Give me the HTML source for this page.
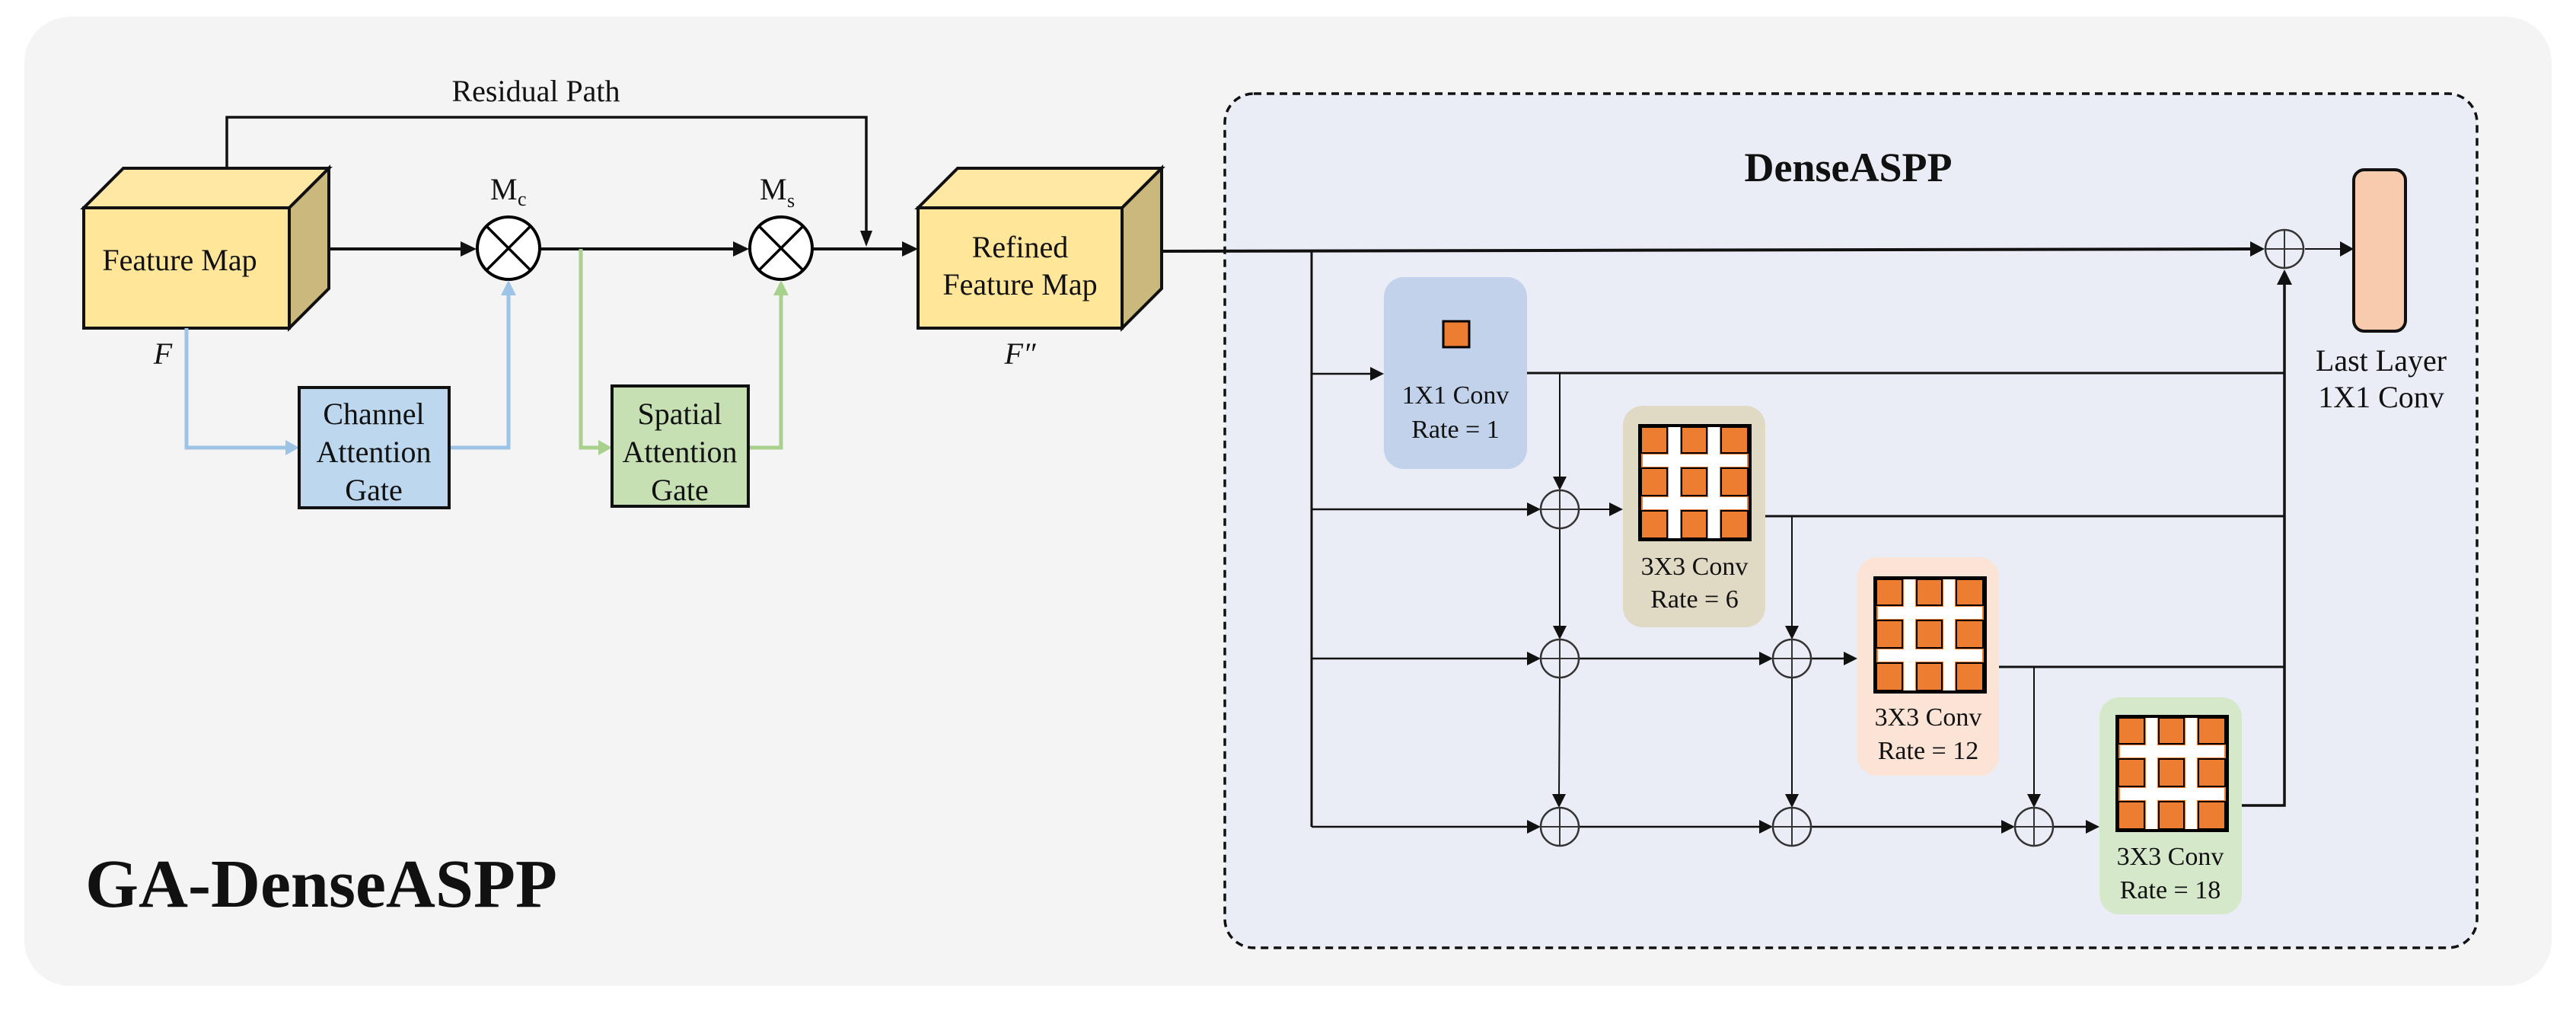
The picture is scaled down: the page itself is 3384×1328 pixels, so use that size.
<!DOCTYPE html>
<html><head><meta charset="utf-8"><style>
html,body{margin:0;padding:0;background:#fff;}
svg{display:block;}
text{font-family:"Liberation Serif",serif;fill:#111;}
</style></head><body>
<svg width="3384" height="1328" viewBox="0 0 3384 1328" xmlns="http://www.w3.org/2000/svg">
<defs>
<marker id="ab" markerWidth="10" markerHeight="10" refX="9" refY="5" orient="auto" markerUnits="userSpaceOnUse"><path d="M0,0 L0,0"/></marker>
<g id="grid">
 <rect x="0" y="0" width="149" height="154" fill="#000"/>
 <rect x="4" y="4" width="141" height="146" fill="#ed7d31"/>
 <rect x="40" y="4" width="15" height="146" fill="#fff"/>
 <rect x="92" y="4" width="15" height="146" fill="#fff"/>
 <rect x="6" y="40" width="137" height="16" fill="#fff"/>
 <rect x="6" y="96" width="137" height="16" fill="#fff"/>
 <g fill="#ed7d31" stroke="#000" stroke-width="2">
  <rect x="4" y="4" width="34" height="34"/><rect x="57" y="4" width="33" height="34"/><rect x="109" y="4" width="35" height="34"/>
  <rect x="4" y="58" width="34" height="36"/><rect x="57" y="58" width="33" height="36"/><rect x="109" y="58" width="35" height="36"/>
  <rect x="4" y="114" width="34" height="36"/><rect x="57" y="114" width="33" height="36"/><rect x="109" y="114" width="35" height="36"/>
 </g>
</g>
<g id="plus">
 <circle cx="0" cy="0" r="25" fill="none" stroke="#333" stroke-width="2.5"/>
 <line x1="-25" y1="0" x2="25" y2="0" stroke="#333" stroke-width="2"/>
 <line x1="0" y1="-25" x2="0" y2="25" stroke="#333" stroke-width="2"/>
</g>
<g id="times">
 <circle cx="0" cy="0" r="41" fill="#fff" stroke="#000" stroke-width="4"/>
 <line x1="-29" y1="-29" x2="29" y2="29" stroke="#000" stroke-width="3.5"/>
 <line x1="29" y1="-29" x2="-29" y2="29" stroke="#000" stroke-width="3.5"/>
</g>
</defs>

<rect x="32" y="22" width="3320" height="1273" rx="60" fill="#f4f4f4"/>

<!-- DenseASPP container -->
<rect x="1609" y="123" width="1645" height="1122" rx="38" fill="#eaedf5" stroke="#111" stroke-width="3.5" stroke-dasharray="10,7"/>
<text x="2428" y="238" font-size="54" font-weight="bold" text-anchor="middle">DenseASPP</text>

<!-- Feature map cube -->
<g stroke="#111" stroke-width="4" stroke-linejoin="miter">
 <polygon points="110,273 162,221 432,221 380,273" fill="#ffe8a3"/>
 <polygon points="380,273 432,221 432,379 380,431" fill="#cbb87c"/>
 <rect x="110" y="273" width="270" height="158" fill="#ffe699"/>
 <polygon points="1206,273 1258,221 1526,221 1474,273" fill="#ffe8a3"/>
 <polygon points="1474,273 1526,221 1526,379 1474,431" fill="#cbb87c"/>
 <rect x="1206" y="273" width="268" height="158" fill="#ffe699"/>
</g>
<text x="236" y="355" font-size="40" text-anchor="middle">Feature Map</text>
<text x="1340" y="338" font-size="40" text-anchor="middle">Refined</text>
<text x="1340" y="387" font-size="40" text-anchor="middle">Feature Map</text>
<text x="214" y="478" font-size="40" font-style="italic" text-anchor="middle">F</text>
<text x="1340" y="478" font-size="40" font-style="italic" text-anchor="middle">F″</text>

<!-- residual -->
<text x="704" y="133" font-size="40" text-anchor="middle">Residual Path</text>
<polyline points="298,221 298,154 1138,154 1138,305" fill="none" stroke="#111" stroke-width="3.5"/>
<polygon points="1130,303 1146,303 1138,324" fill="#111"/>

<!-- main line -->
<g stroke="#111" stroke-width="4">
 <line x1="432" y1="327" x2="608" y2="327"/>
 <line x1="710" y1="327" x2="966" y2="327"/>
 <line x1="1068" y1="327" x2="1188" y2="327"/>
</g>
<polygon points="605,317 605,337 626,327" fill="#111"/>
<polygon points="963,317 963,337 984,327" fill="#111"/>
<polygon points="1185,317 1185,337 1206,327" fill="#111"/>
<use href="#times" x="668" y="326"/>
<use href="#times" x="1026" y="326"/>
<text x="644" y="262" font-size="40">M</text><text x="680" y="270" font-size="26">c</text>
<text x="998" y="262" font-size="40">M</text><text x="1034" y="272" font-size="26">s</text>

<!-- attention gates -->
<polyline points="245,431 245,588 378,588" fill="none" stroke="#9dc3e6" stroke-width="5"/>
<polygon points="375,578 375,598 393,588" fill="#9dc3e6"/>
<polyline points="590,588 668,588 668,385" fill="none" stroke="#9dc3e6" stroke-width="5"/>
<polygon points="658,388 678,388 668,368" fill="#9dc3e6"/>
<rect x="393" y="509" width="197" height="158" fill="#bdd7ee" stroke="#111" stroke-width="4"/>
<text x="491" y="557" font-size="40" text-anchor="middle">Channel</text>
<text x="491" y="607" font-size="40" text-anchor="middle">Attention</text>
<text x="491" y="657" font-size="40" text-anchor="middle">Gate</text>

<polyline points="763,327 763,588 788,588" fill="none" stroke="#a9d18e" stroke-width="5"/>
<polygon points="786,578 786,598 804,588" fill="#a9d18e"/>
<polyline points="983,588 1026,588 1026,385" fill="none" stroke="#a9d18e" stroke-width="5"/>
<polygon points="1016,388 1036,388 1026,368" fill="#a9d18e"/>
<rect x="804" y="507" width="179" height="158" fill="#c6e0b4" stroke="#111" stroke-width="4"/>
<text x="893" y="557" font-size="40" text-anchor="middle">Spatial</text>
<text x="893" y="607" font-size="40" text-anchor="middle">Attention</text>
<text x="893" y="657" font-size="40" text-anchor="middle">Gate</text>

<!-- DenseASPP internals -->
<rect x="1818" y="364" width="188" height="252" rx="26" fill="#c3d2eb"/>
<rect x="1896" y="422" width="34" height="34" fill="#ed7d31" stroke="#000" stroke-width="3"/>
<text x="1912" y="530" font-size="34" text-anchor="middle">1X1 Conv</text>
<text x="1912" y="575" font-size="34" text-anchor="middle">Rate = 1</text>

<rect x="2132" y="533" width="187" height="291" rx="26" fill="#e0d9c4"/>
<use href="#grid" x="2152" y="557"/>
<text x="2226" y="755" font-size="34" text-anchor="middle">3X3 Conv</text>
<text x="2226" y="798" font-size="34" text-anchor="middle">Rate = 6</text>

<rect x="2440" y="732" width="186" height="287" rx="26" fill="#fbe3d6"/>
<use href="#grid" x="2461" y="757"/>
<text x="2533" y="953" font-size="34" text-anchor="middle">3X3 Conv</text>
<text x="2533" y="997" font-size="34" text-anchor="middle">Rate = 12</text>

<rect x="2758" y="916" width="187" height="285" rx="26" fill="#d5e8ca"/>
<use href="#grid" x="2779" y="939"/>
<text x="2851" y="1136" font-size="34" text-anchor="middle">3X3 Conv</text>
<text x="2851" y="1180" font-size="34" text-anchor="middle">Rate = 18</text>

<rect x="3092" y="223" width="68" height="212" rx="14" fill="#f8cbad" stroke="#111" stroke-width="4"/>
<text x="3128" y="487" font-size="40" text-anchor="middle">Last Layer</text>
<text x="3128" y="535" font-size="40" text-anchor="middle">1X1 Conv</text>

<g stroke="#111" fill="none">
 <line x1="1526" y1="330" x2="2958" y2="327" stroke-width="4"/>
 <line x1="1723" y1="330" x2="1723" y2="1086" stroke-width="3"/>
 <line x1="1723" y1="491" x2="1802" y2="491" stroke-width="2.5"/>
 <polyline points="2006,490 3001,490" stroke-width="3"/>
 <line x1="2049" y1="490" x2="2049" y2="628" stroke-width="2"/>
 <line x1="2049" y1="694" x2="2049" y2="824" stroke-width="2"/>
 <line x1="2049" y1="890" x2="2048" y2="1045" stroke-width="2"/>
 <line x1="1723" y1="669" x2="2008" y2="669" stroke-width="2.5"/>
 <line x1="2074" y1="669" x2="2116" y2="669" stroke-width="2"/>
 <polyline points="2319,678 3001,678" stroke-width="3"/>
 <line x1="2354" y1="678" x2="2354" y2="824" stroke-width="2"/>
 <line x1="2354" y1="890" x2="2354" y2="1045" stroke-width="2"/>
 <line x1="1723" y1="865" x2="2008" y2="865" stroke-width="2.5"/>
 <line x1="2074" y1="865" x2="2313" y2="865" stroke-width="2.5"/>
 <line x1="2379" y1="865" x2="2424" y2="865" stroke-width="2.5"/>
 <polyline points="2626,876 3001,876" stroke-width="3"/>
 <line x1="2672" y1="876" x2="2672" y2="1045" stroke-width="2"/>
 <line x1="1723" y1="1086" x2="2008" y2="1086" stroke-width="2.5"/>
 <line x1="2074" y1="1086" x2="2313" y2="1086" stroke-width="2.5"/>
 <line x1="2379" y1="1086" x2="2631" y2="1086" stroke-width="2.5"/>
 <line x1="2697" y1="1086" x2="2742" y2="1086" stroke-width="2.5"/>
 <polyline points="2945,1058 3001,1058 3001,370" stroke-width="3.5"/>
 <line x1="3028" y1="327" x2="3076" y2="327" stroke-width="2"/>
</g>
<g fill="#111">
 <polygon points="2956,317 2956,337 2975,327"/>
 <polygon points="2991,374 3011,374 3001,354"/>
 <polygon points="3074,317 3074,337 3092,327"/>
 <polygon points="1800,482 1800,500 1818,491"/>
 <polygon points="2040,626 2058,626 2049,644"/>
 <polygon points="2040,822 2058,822 2049,840"/>
 <polygon points="2039,1043 2057,1043 2048,1061"/>
 <polygon points="2345,822 2363,822 2354,840"/>
 <polygon points="2345,1043 2363,1043 2354,1061"/>
 <polygon points="2663,1043 2681,1043 2672,1061"/>
 <polygon points="2006,660 2006,678 2024,669"/>
 <polygon points="2114,660 2114,678 2132,669"/>
 <polygon points="2006,856 2006,874 2024,865"/>
 <polygon points="2311,856 2311,874 2329,865"/>
 <polygon points="2422,856 2422,874 2440,865"/>
 <polygon points="2006,1077 2006,1095 2024,1086"/>
 <polygon points="2311,1077 2311,1095 2329,1086"/>
 <polygon points="2629,1077 2629,1095 2647,1086"/>
 <polygon points="2740,1077 2740,1095 2758,1086"/>
</g>
<use href="#plus" x="3001" y="327"/>
<use href="#plus" x="2049" y="669"/>
<use href="#plus" x="2049" y="865"/>
<use href="#plus" x="2049" y="1086"/>
<use href="#plus" x="2354" y="865"/>
<use href="#plus" x="2354" y="1086"/>
<use href="#plus" x="2672" y="1086"/>

<text x="112" y="1191" font-size="90" font-weight="bold">GA-DenseASPP</text>
</svg>
</body></html>
